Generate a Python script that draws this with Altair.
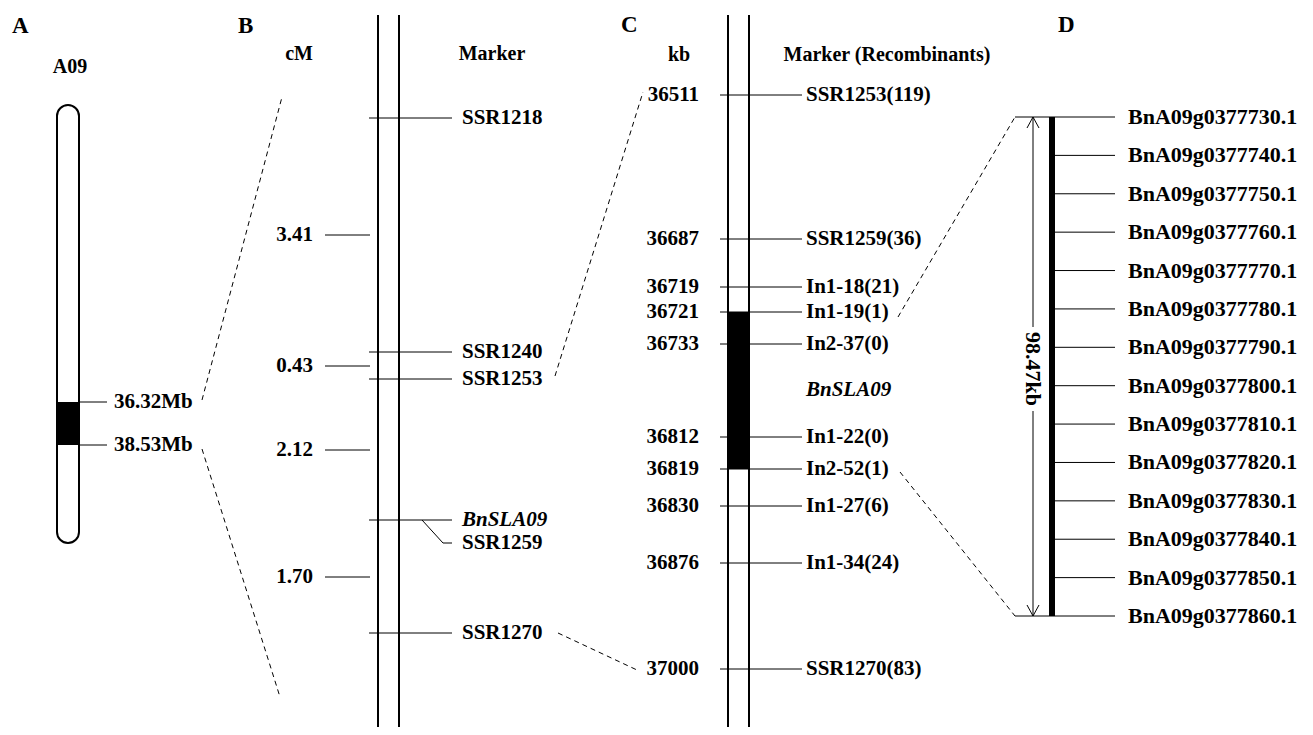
import altair as alt
import pandas as pd

# ---------------- data ----------------
chrom_name = "A09"
interval_mb = ["36.32Mb", "38.53Mb"]

cm_intervals = [3.41, 0.43, 2.12, 1.70]
b_markers = ["SSR1218", "SSR1240", "SSR1253", "BnSLA09", "SSR1259", "SSR1270"]

kb_positions = [36511, 36687, 36719, 36721, 36733, 36812, 36819, 36830, 36876, 37000]
c_markers = ["SSR1253", "SSR1259", "In1-18", "In1-19", "In2-37", "In1-22",
             "In2-52", "In1-27", "In1-34", "SSR1270"]
recombinants = [119, 36, 21, 1, 0, 0, 1, 6, 24, 83]
candidate_gene = "BnSLA09"

genes = ["BnA09g0377730.1", "BnA09g0377740.1", "BnA09g0377750.1", "BnA09g0377760.1",
         "BnA09g0377770.1", "BnA09g0377780.1", "BnA09g0377790.1", "BnA09g0377800.1",
         "BnA09g0377810.1", "BnA09g0377820.1", "BnA09g0377830.1", "BnA09g0377840.1",
         "BnA09g0377850.1", "BnA09g0377860.1"]
region_size = "98.47kb"

# ---------------- layout (diagram positions) ----------------
A_band = (402, 445)
B_marker_y = [118, 352, 379, 520, 543, 633]
B_cm_y = [235, 366, 450, 577]
C_kb_y = [95, 239, 287, 312, 344, 437, 469, 506, 563, 669]
D_top, D_bot = 117, 616
D_gene_y = [D_top + i * (D_bot - D_top) / (len(genes) - 1) for i in range(len(genes))]

FONT = "Liberation Serif"
XS = alt.Scale(domain=[8, 1305], nice=False, zero=False)
YS = alt.Scale(domain=[8, 727], nice=False, zero=False, reverse=True)


def enc_pts():
    return dict(x=alt.X("x:Q", scale=XS, axis=None), y=alt.Y("y:Q", scale=YS, axis=None))


def enc_seg():
    return dict(x=alt.X("x:Q", scale=XS, axis=None), y=alt.Y("y:Q", scale=YS, axis=None),
                x2=alt.X2("x2:Q"), y2=alt.Y2("y2:Q"))


# ---------------- segments ----------------
thin = []   # (x, y, x2, y2)
thick = []
dashed = []

# Panel A
for yy in A_band:
    thin.append((79, yy, 107, yy))
dashed += [(202, 400, 282, 97), (202, 449, 280, 697)]

# Panel B
thick += [(378, 15, 378, 727), (399, 15, 399, 727)]
for i, yy in enumerate(B_marker_y):
    if b_markers[i] == "SSR1259":
        continue
    thin.append((369, yy, 452, yy))
thin += [(422, 520, 443, 543), (443, 543, 452, 543)]
for yy in B_cm_y:
    thin.append((325, yy, 370, yy))
dashed += [(555, 376, 643, 92), (558, 633, 637, 670)]

# Panel C
thick += [(728, 15, 728, 727), (749, 15, 749, 727)]
for yy in C_kb_y:
    thin.append((720, yy, 802, yy))
dashed += [(898, 317, 1015, 117), (900, 472, 1015, 616)]

# Panel D
for i, yy in enumerate(D_gene_y):
    x0 = 1015 if i in (0, len(genes) - 1) else 1052
    thin.append((x0, yy, 1115, yy))
thin += [(1033, D_top, 1033, 327), (1033, 411, 1033, D_bot),
         (1033, D_top, 1027, D_top + 11), (1033, D_top, 1039, D_top + 11),
         (1033, D_bot, 1027, D_bot - 11), (1033, D_bot, 1039, D_bot - 11)]
bar = [(1052, D_top, 1052, D_bot)]


def seg_df(rows):
    return pd.DataFrame(rows, columns=["x", "y", "x2", "y2"])


layers = []
layers.append(alt.Chart(seg_df(thin)).mark_rule(color="black", strokeWidth=1).encode(**enc_seg()))
layers.append(alt.Chart(seg_df(thick)).mark_rule(color="black", strokeWidth=2).encode(**enc_seg()))
layers.append(alt.Chart(seg_df(dashed)).mark_rule(color="black", strokeWidth=1, strokeDash=[5, 4]).encode(**enc_seg()))
layers.append(alt.Chart(seg_df(bar)).mark_rule(color="black", strokeWidth=6).encode(**enc_seg()))

# ---------------- rects ----------------
chrom = pd.DataFrame([(57, 105, 79, 543)], columns=["x", "y", "x2", "y2"])
layers.append(alt.Chart(chrom).mark_rect(fill="white", stroke="black", strokeWidth=2,
                                         cornerRadius=11).encode(**enc_seg()))
blocks = pd.DataFrame([(57, A_band[0], 79, A_band[1]),
                       (728, C_kb_y[3], 749, C_kb_y[6])], columns=["x", "y", "x2", "y2"])
layers.append(alt.Chart(blocks).mark_rect(fill="black").encode(**enc_seg()))

# ---------------- texts ----------------
left_txt = []
left_txt += [(114, A_band[0], interval_mb[0]), (114, A_band[1], interval_mb[1])]
for i, m in enumerate(b_markers):
    if m != candidate_gene:
        left_txt.append((462, B_marker_y[i], m))
for i, m in enumerate(c_markers):
    left_txt.append((806, C_kb_y[i], f"{m}({recombinants[i]})"))

right_txt = []
for v, yy in zip(cm_intervals, B_cm_y):
    right_txt.append((313, yy, f"{v:.2f}"))
for v, yy in zip(kb_positions, C_kb_y):
    right_txt.append((699, yy, str(v)))

center_txt = [(70, 67, chrom_name), (299, 54, "cM"), (492, 54, "Marker"),
              (679, 55, "kb"), (887, 55, "Marker (Recombinants)")]

italic_txt = [(462, 520, candidate_gene), (806, 390, candidate_gene)]

letters = [(12, 26, "A"), (238, 26, "B"), (621, 25, "C"), (1058, 25, "D")]

gene_txt = [(1128, yy, g) for g, yy in zip(genes, D_gene_y)]


def txt_df(rows):
    return pd.DataFrame(rows, columns=["x", "y", "t"])


def text_layer(rows, align="left", size=21, style="normal"):
    return alt.Chart(txt_df(rows)).mark_text(
        align=align, baseline="middle", font=FONT, fontWeight="bold",
        fontStyle=style, fontSize=size, color="black"
    ).encode(text="t:N", **enc_pts())


layers.append(text_layer(left_txt, "left", 21))
layers.append(text_layer(right_txt, "right", 21))
layers.append(text_layer(center_txt, "center", 20))
layers.append(text_layer(italic_txt, "left", 21, "italic"))
layers.append(text_layer(letters, "left", 23))
layers.append(text_layer(gene_txt, "left", 22))

rot = txt_df([(1033, 369, region_size)])
layers.append(alt.Chart(rot).mark_text(
    align="center", baseline="middle", font=FONT, fontWeight="bold",
    fontSize=22, angle=90, color="black").encode(text="t:N", **enc_pts()))

chart = alt.layer(*layers).properties(
    width=1297, height=719, padding=0,
    autosize=alt.AutoSizeParams(type="none"),
    background="white",
).configure_view(stroke=None)

chart.save("out.html", embed_options={"renderer": "svg", "actions": False})
